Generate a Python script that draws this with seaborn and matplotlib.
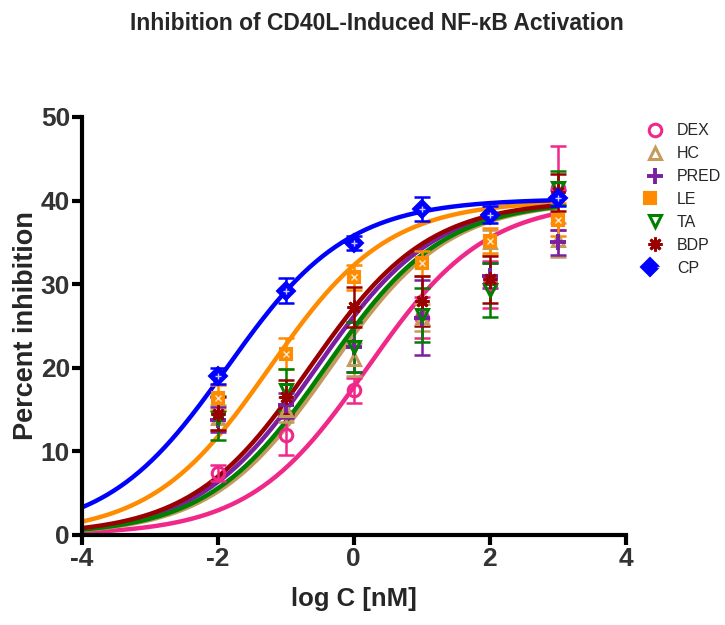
import numpy as np
import pandas as pd
import matplotlib
matplotlib.use("Agg")
import matplotlib.pyplot as plt
from matplotlib.lines import Line2D
from matplotlib.legend_handler import HandlerTuple
import seaborn as sns

# ---- data ----
drugs = ["DEX", "HC", "PRED", "LE", "TA", "BDP", "CP"]
log_dose = [-2, -1, 0, 1, 2, 3]

dex_mean = [7.4, 12.0, 17.3, 26.0, 30.0, 41.5]
dex_err = [1.0, 2.4, 1.5, 2.5, 2.8, 5.0]
hc_mean = [14.0, 15.0, 21.0, 26.0, 35.0, 35.3]
hc_err = [1.5, 1.5, 2.0, 1.6, 1.5, 2.0]
pred_mean = [13.8, 15.5, 22.5, 26.0, 31.0, 35.0]
pred_err = [1.5, 1.5, 3.0, 4.5, 1.5, 1.5]
le_mean = [16.4, 21.7, 30.8, 32.5, 35.2, 37.7]
le_err = [1.5, 1.8, 1.5, 1.5, 1.5, 2.0]
ta_mean = [14.0, 17.3, 22.5, 26.3, 29.3, 41.5]
ta_err = [2.6, 2.5, 3.0, 3.2, 3.2, 2.0]
bdp_mean = [14.5, 16.5, 27.3, 28.0, 30.6, 41.0]
bdp_err = [2.0, 2.0, 2.4, 3.0, 2.8, 2.2]
cp_mean = [19.0, 29.2, 34.9, 39.0, 38.3, 40.3]
cp_err = [1.0, 1.5, 0.8, 1.4, 1.0, 1.0]

# fitted sigmoid parameters (log(inhibitor) vs response, bottom = 0)
fit_logec50 = [0.2, -0.35, -0.55, -1.24, -0.42, -0.65, -1.86]
fit_hill = [0.5, 0.5, 0.5, 0.5, 0.5, 0.5, 0.49]
fit_top = [40.0, 40.0, 40.0, 40.0, 40.0, 40.0, 40.2]

means = [dex_mean, hc_mean, pred_mean, le_mean, ta_mean, bdp_mean, cp_mean]
errs = [dex_err, hc_err, pred_err, le_err, ta_err, bdp_err, cp_err]

colors = ["#F0288A", "#C49A5E", "#7B1FA2", "#FF8C00", "#008000", "#990000", "#0000FF"]

sns.set_style("ticks")
plt.rcParams["font.family"] = ["Liberation Sans", "DejaVu Sans"]
plt.rcParams["axes.unicode_minus"] = False

fig = plt.figure(figsize=(7.25, 6.25), dpi=100)
ax = fig.add_axes([0.113, 0.144, 0.75, 0.669])

# fitted curves
xg = np.linspace(-4, 3, 300)
rows = []
for name, c50, h, top in zip(drugs, fit_logec50, fit_hill, fit_top):
    yv = top / (1 + 10 ** ((c50 - xg) * h))
    rows.append(pd.DataFrame({"x": xg, "y": yv, "drug": name}))
curves = pd.concat(rows, ignore_index=True)
sns.lineplot(data=curves, x="x", y="y", hue="drug", hue_order=drugs,
             palette=colors, linewidth=3.2, legend=False, ax=ax, zorder=2)

# data points with error bars
marker_kw = {
    "DEX": dict(marker="o", mfc="none", ms=9, mew=2.2),
    "HC": dict(marker="^", mfc="none", ms=9, mew=2.2),
    "LE": dict(marker="s", ms=9, mew=1.5),
    "TA": dict(marker="v", mfc="none", ms=9, mew=2.2),
    "BDP": dict(marker=(8, 2, 0), ms=10, mew=2.0),
    "CP": dict(marker="D", ms=9, mew=1.5),
}
handles = []
for name, col, m, e in zip(drugs, colors, means, errs):
    ax.errorbar(log_dose, m, yerr=e, fmt="none", ecolor=col, elinewidth=1.8,
                capsize=5.5, capthick=1.8, zorder=3)
    if name == "PRED":
        ax.plot(log_dose, m, ls="none", marker="+", color=col, ms=12, mew=2.8, zorder=4)
        h = Line2D([], [], ls="none", marker="+", color=col, ms=12, mew=2.8)
    elif name in ("LE", "CP"):
        kw = marker_kw[name]
        inner = "x" if name == "LE" else "+"
        ax.plot(log_dose, m, ls="none", color=col, mec=col, zorder=4, **kw)
        ax.plot(log_dose, m, ls="none", marker=inner, color="white",
                ms=5, mew=1.0, alpha=0.8, zorder=5)
        h = (Line2D([], [], ls="none", color=col, mec=col, **kw),
             Line2D([], [], ls="none", marker=inner, color="white",
                    ms=5, mew=1.0, alpha=0.8))
    else:
        kw = marker_kw[name]
        ax.plot(log_dose, m, ls="none", color=col, mec=col, zorder=4, **kw)
        h = Line2D([], [], ls="none", color=col, mec=col, **kw)
    handles.append(h)

ax.set_xlim(-4, 4)
ax.set_ylim(0, 50)
ax.set_xticks([-4, -2, 0, 2, 4])
ax.set_yticks([0, 10, 20, 30, 40, 50])
sns.despine(ax=ax)
for s in ("left", "bottom"):
    ax.spines[s].set_linewidth(3)
    ax.spines[s].set_color("black")
ax.tick_params(axis="both", width=3, length=7, color="black",
               labelsize=19, labelcolor="#333333", pad=1.5)
for lab in ax.get_xticklabels() + ax.get_yticklabels():
    lab.set_fontweight("bold")

ax.set_xlabel("log C [nM]", fontsize=18.5, fontweight="bold", labelpad=12)
ax.set_ylabel("Percent inhibition", fontsize=19.5, fontweight="bold", labelpad=1)

fig.text(0.52, 0.963, "Inhibition of CD40L-Induced NF-κB Activation",
         ha="center", va="center", fontsize=16.5, fontweight="bold")

fig.legend(handles, drugs, loc="upper left", bbox_to_anchor=(0.87, 0.826),
           frameon=False, fontsize=11.5, handlelength=1.2, handletextpad=0.8,
           labelspacing=0.5, handler_map={tuple: HandlerTuple(ndivide=None, pad=0)})

fig.savefig("out.png", dpi=100)
